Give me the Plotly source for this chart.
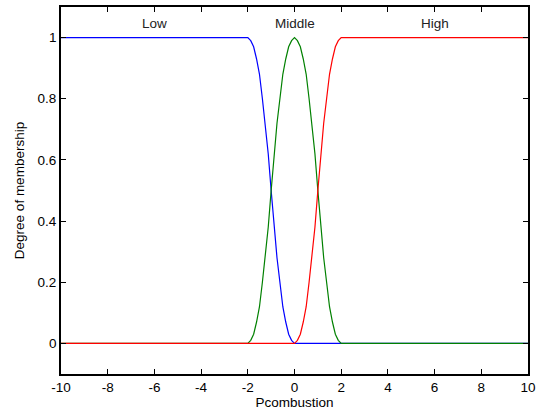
import plotly.graph_objects as go

# Membership curves
x_low = [-10, -2, -1.875, -1.75, -1.625, -1.5, -1.375, -1.25, -1.125, -1,
         -0.875, -0.75, -0.625, -0.5, -0.375, -0.25, -0.125, 0, 10]
y_low = [1, 1, 0.99, 0.97, 0.93, 0.88, 0.8, 0.72, 0.62, 0.5,
         0.38, 0.28, 0.2, 0.12, 0.07, 0.03, 0.01, 0, 0]

x_mid = [-10, -2, -1.875, -1.75, -1.625, -1.5, -1.375, -1.25, -1.125, -1,
         -0.875, -0.75, -0.625, -0.5, -0.375, -0.25, -0.125, 0,
         0.125, 0.25, 0.375, 0.5, 0.625, 0.75, 0.875, 1,
         1.125, 1.25, 1.375, 1.5, 1.625, 1.75, 1.875, 2, 10]
y_mid = [0, 0, 0.01, 0.03, 0.07, 0.12, 0.2, 0.28, 0.38, 0.5,
         0.62, 0.72, 0.8, 0.88, 0.93, 0.97, 0.99, 1,
         0.99, 0.97, 0.93, 0.88, 0.8, 0.72, 0.62, 0.5,
         0.38, 0.28, 0.2, 0.12, 0.07, 0.03, 0.01, 0, 0]

x_high = [-10, 0, 0.125, 0.25, 0.375, 0.5, 0.625, 0.75, 0.875, 1,
          1.125, 1.25, 1.375, 1.5, 1.625, 1.75, 1.875, 2, 10]
y_high = [0, 0, 0.01, 0.03, 0.07, 0.12, 0.2, 0.28, 0.38, 0.5,
          0.62, 0.72, 0.8, 0.88, 0.93, 0.97, 0.99, 1, 1]

labels = ["Low", "Middle", "High"]
label_x = [-6, 0, 6]
label_y = 1.045

x_ticks = [-10, -8, -6, -4, -2, 0, 2, 4, 6, 8, 10]
x_ticktext = ["-10", "-8", "-6", "-4", "-2", "0", "2", "4", "6", "8", "10"]
y_ticks = [0, 0.2, 0.4, 0.6, 0.8, 1]
y_ticktext = ["0", "0.2", "0.4", "0.6", "0.8", "1"]

FS = 13.5

fig = go.Figure()
fig.add_trace(go.Scatter(x=x_low, y=y_low, mode="lines",
                         line=dict(color="#0000ff", width=1.2), showlegend=False))
fig.add_trace(go.Scatter(x=x_mid, y=y_mid, mode="lines",
                         line=dict(color="#008000", width=1.2), showlegend=False))
fig.add_trace(go.Scatter(x=x_high, y=y_high, mode="lines",
                         line=dict(color="#ff0000", width=1.2), showlegend=False))

for t, xv in zip(labels, label_x):
    fig.add_annotation(x=xv, y=label_y, text=t, showarrow=False,
                       font=dict(size=FS, color="#222222"))

axis_common = dict(showgrid=False, zeroline=False, showline=True, linecolor="black",
                   linewidth=1.8, mirror="ticks", ticks="inside", ticklen=5,
                   tickcolor="black", tickfont=dict(size=FS, color="black"))

fig.update_xaxes(range=[-10, 10], tickvals=x_ticks, ticktext=x_ticktext,
                 title=dict(text="Pcombustion", standoff=3,
                            font=dict(size=FS, color="black")), **axis_common)
fig.update_yaxes(range=[-0.1, 1.1], tickvals=y_ticks, ticktext=y_ticktext,
                 title=dict(text="Degree of membership", standoff=10,
                            font=dict(size=FS, color="black")), **axis_common)

fig.update_layout(width=543, height=417, margin=dict(l=61, r=15, t=5, b=43),
                  paper_bgcolor="white", plot_bgcolor="white",
                  font=dict(family="Liberation Sans, Arial, sans-serif", size=FS, color="black"))

fig.write_html("out.html")
